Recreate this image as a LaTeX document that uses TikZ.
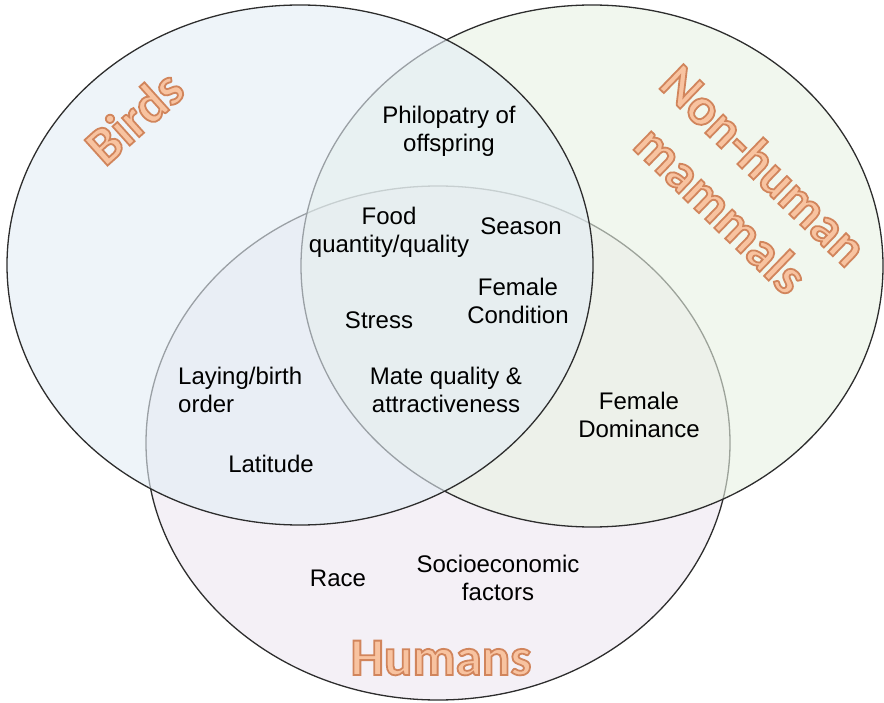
\documentclass[tikz,border=0pt]{standalone}
\usepackage{fontspec}
\setmainfont{Liberation Sans}
\newfontfamily\titlefont{Carlito}
\usetikzlibrary{calc}
\definecolor{birdfill}{RGB}{227,237,245}
\definecolor{mamfill}{RGB}{232,242,227}
\definecolor{humfill}{RGB}{237,230,240}
\definecolor{edgecol}{RGB}{45,45,45}
\definecolor{titlefill}{RGB}{248,195,160}
\newcommand{\outlinetext}[1]{\special{pdf:literal direct 2 Tr 1.8 w 0.82 0.52 0.36 RG}#1\special{pdf:literal direct 0 Tr}}
\tikzset{
  setcircle/.style={draw=edgecol, line width=1.3pt, fill opacity=0.6, draw opacity=1},
  lbl/.style={font=\fontsize{24}{28}\selectfont, align=center, inner sep=0pt, text=black},
  ttl/.style={font=\titlefont\bfseries\fontsize{53}{62}\selectfont, align=center, inner sep=0pt, text=titlefill},
}
\begin{document}
\begin{tikzpicture}[x=1pt,y=-1pt]
\useasboundingbox (0,0) rectangle (884,703);
% sets: humans, mammals, birds (drawing order)
\path[setcircle, fill=humfill] (438,443) ellipse [x radius=292, y radius=257];
\path[setcircle, fill=mamfill] (592,266) ellipse [x radius=291, y radius=261];
\path[setcircle, fill=birdfill] (300,265) ellipse [x radius=293, y radius=260];
% titles
\node[ttl, rotate=42] (tbirds) at (134,117) {\outlinetext{Birds}};
\node[ttl, rotate=-44] (tmam) at (743,187) {\outlinetext{Non-human}\\\outlinetext{mammals}};
\node[ttl] (thum) at (441,658) {\outlinetext{Humans}};
% labels
\node[lbl] (philo) at (449,131) {Philopatry of\\offspring};
\node[lbl] (food) at (389,232) {Food\\quantity/quality};
\node[lbl] (season) at (521,226) {Season};
\node[lbl] (fcond) at (518,301) {Female\\Condition};
\node[lbl] (stress) at (379,320) {Stress};
\node[lbl] (mate) at (446,390) {Mate quality \&\\attractiveness};
\node[lbl, align=left, anchor=west] (lay) at (178,390) {Laying/birth\\order};
\node[lbl] (lat) at (271,464) {Latitude};
\node[lbl] (fdom) at (639,415) {Female\\Dominance};
\node[lbl] (race) at (338,578) {Race};
\node[lbl] (socio) at (498,578) {Socioeconomic\\factors};
\end{tikzpicture}
\end{document}
